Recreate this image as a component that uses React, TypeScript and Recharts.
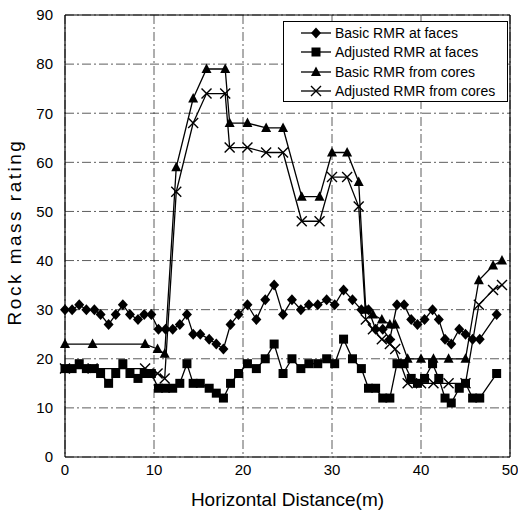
import { LineChart, Line, XAxis, YAxis, CartesianGrid, ReferenceLine, Label } from "recharts";

// distances (m) where face mapping was done
const faceDistance = [
  0, 0.8, 1.6, 2.4, 3.3, 4.0, 4.9, 5.7, 6.5, 7.3, 8.2, 8.9, 9.7, 10.5, 11.3, 12.1, 12.9, 13.7, 14.4,
  15.2, 16.2, 17.0, 17.8, 18.6, 19.5, 20.5, 21.5, 22.5, 23.5, 24.5, 25.5, 26.5, 27.4, 28.4, 29.4, 30.3,
  31.3, 32.3, 33.3, 34.1, 34.9, 35.7, 36.5, 37.3, 38.1, 38.9, 39.6, 40.4, 41.3, 42.0, 42.7, 43.4, 44.3,
  45.0, 45.8, 46.6, 48.5,
];
const basicFaces = [
  30, 30, 31, 30, 30, 29, 27, 29, 31, 29, 28, 29, 29, 26, 26, 26, 27, 29, 25, 25, 24, 23, 22, 27, 29,
  31, 28, 32, 35, 29, 32, 30, 31, 31, 32, 31, 34, 32, 30, 30, 26, 26, 24, 31, 31, 28, 27, 28, 30, 28,
  24, 23, 26, 25, 24, 24, 29,
];
const adjustedFaces = [
  18, 18, 19, 18, 18, 17, 15, 17, 19, 17, 16, 17, 17, 14, 14, 14, 15, 19, 15, 15, 14, 13, 12, 15, 17,
  19, 18, 20, 23, 17, 20, 18, 19, 19, 20, 19, 24, 20, 18, 14, 14, 12, 12, 19, 19, 16, 15, 16, 19, 16,
  12, 11, 14, 15, 12, 12, 17,
];

// distances (m) of the core intervals
const coreDistance = [
  0, 3.1, 9.0, 10.4, 11.2, 12.5, 14.4, 15.9, 18.0, 18.5, 20.5, 22.6, 24.5, 26.6, 28.6, 30.0, 31.7,
  33.0, 33.8, 34.6, 35.6, 36.5, 37.1, 38.5, 40.0, 41.4, 43.1, 45.0, 46.5, 48.1, 49.1,
];
const basicCores = [
  23, 23, 23, 22, 21, 59, 73, 79, 79, 68, 68, 67, 67, 53, 53, 62, 62, 56, 30, 29, 28, 27, 27, 20, 20,
  20, 20, 20, 36, 39, 40,
];
const adjustedCores = [
  18, 18, 18, 17, 16, 54, 68, 74, 74, 63, 63, 62, 62, 48, 48, 57, 57, 51, 28, 26, 24, 23, 22, 15, 15,
  15, 15, 15, 31, 34, 35,
];

const xTicks = [0, 10, 20, 30, 40, 50];
const yTicks = [0, 10, 20, 30, 40, 50, 60, 70, 80, 90];

const faceData = faceDistance.map((x, i) => ({ x, basic: basicFaces[i], adjusted: adjustedFaces[i] }));
const coreData = coreDistance.map((x, i) => ({ x, basic: basicCores[i], adjusted: adjustedCores[i] }));

type Shape = "diamond" | "square" | "triangle" | "cross";

const SERIES: { name: string; shape: Shape }[] = [
  { name: "Basic RMR at faces", shape: "diamond" },
  { name: "Adjusted RMR at faces", shape: "square" },
  { name: "Basic RMR from cores", shape: "triangle" },
  { name: "Adjusted RMR from cores", shape: "cross" },
];

function Marker({ shape, cx, cy }: { shape: Shape; cx: number; cy: number }) {
  if (cx == null || cy == null || isNaN(cx) || isNaN(cy)) return <g />;
  switch (shape) {
    case "diamond":
      return <path d={`M${cx},${cy - 5.5}L${cx + 5},${cy}L${cx},${cy + 5.5}L${cx - 5},${cy}Z`} fill="#000" />;
    case "square":
      return <rect x={cx - 4.5} y={cy - 4.5} width={9} height={9} fill="#000" />;
    case "triangle":
      return <path d={`M${cx},${cy - 5.5}L${cx + 5},${cy + 4}L${cx - 5},${cy + 4}Z`} fill="#000" />;
    default:
      return (
        <path
          d={`M${cx - 5},${cy - 5}L${cx + 5},${cy + 5}M${cx + 5},${cy - 5}L${cx - 5},${cy + 5}`}
          stroke="#000"
          strokeWidth={1.4}
        />
      );
  }
}

const dotFor = (shape: Shape) =>
  // eslint-disable-next-line @typescript-eslint/no-explicit-any
  (p: any) => (
    <g key={`${shape}-${p.index}`}>
      <Marker shape={shape} cx={p.cx} cy={p.cy} />
    </g>
  );

function LegendBox() {
  return (
    <div
      style={{
        position: "absolute",
        left: 283,
        top: 21,
        width: 225,
        height: 81,
        border: "1px solid #000",
        background: "#fff",
        boxSizing: "border-box",
        paddingTop: 1,
      }}
    >
      {SERIES.map((s) => (
        <div key={s.name} style={{ display: "flex", alignItems: "center", height: 19.5 }}>
          <svg width={34} height={14} style={{ marginLeft: 15 }}>
            <line x1={2} x2={32} y1={7} y2={7} stroke="#000" strokeWidth={1.3} />
            <Marker shape={s.shape} cx={17} cy={7} />
          </svg>
          <span style={{ marginLeft: 2, fontSize: 14, color: "#000" }}>{s.name}</span>
        </div>
      ))}
    </div>
  );
}

export default function App() {
  return (
    <div
      style={{
        position: "absolute",
        left: 0,
        top: 0,
        width: 518,
        height: 520,
        background: "#fff",
        fontFamily: "'Liberation Sans', Arial, sans-serif",
      }}
    >
      <LineChart width={518} height={520} data={faceData} margin={{ top: 15, right: 8, bottom: 0, left: 0 }}>
        <CartesianGrid stroke="#333" strokeWidth={0.8} strokeDasharray="9 3 2 3" />
        <XAxis
          type="number"
          dataKey="x"
          domain={[0, 50]}
          ticks={xTicks}
          height={63}
          axisLine={{ stroke: "#000", strokeWidth: 1.2 }}
          tickLine={false}
          tickSize={5}
          tickMargin={2}
          tick={{ fill: "#000", fontSize: 15 }}
        >
          <Label value="Horizontal Distance(m)" position="insideBottom" offset={14} fontSize={19} fill="#000" />
        </XAxis>
        <YAxis
          type="number"
          domain={[0, 90]}
          ticks={yTicks}
          width={65}
          axisLine={{ stroke: "#000", strokeWidth: 1.2 }}
          tickLine={false}
          tickSize={9}
          tickMargin={3}
          tick={{ fill: "#000", fontSize: 15 }}
        >
          <Label
            content={() => (
              <text
                x={16}
                y={232}
                transform="rotate(-90 16 232)"
                textAnchor="middle"
                dominantBaseline="middle"
                fontSize={19}
                letterSpacing={2.5}
                fill="#000"
              >
                Rock mass rating
              </text>
            )}
          />
        </YAxis>
        <ReferenceLine y={90} stroke="#000" strokeWidth={1.2} />
        <ReferenceLine x={50} stroke="#000" strokeWidth={1.2} />
        <Line
          data={faceData}
          dataKey="basic"
          stroke="#000"
          strokeWidth={1.3}
          dot={dotFor("diamond")}
          isAnimationActive={false}
        />
        <Line
          data={faceData}
          dataKey="adjusted"
          stroke="#000"
          strokeWidth={1.3}
          dot={dotFor("square")}
          isAnimationActive={false}
        />
        <Line
          data={coreData}
          dataKey="basic"
          stroke="#000"
          strokeWidth={1.3}
          dot={dotFor("triangle")}
          isAnimationActive={false}
        />
        <Line
          data={coreData}
          dataKey="adjusted"
          stroke="#000"
          strokeWidth={1.3}
          dot={dotFor("cross")}
          isAnimationActive={false}
        />
      </LineChart>
      <LegendBox />
    </div>
  );
}
